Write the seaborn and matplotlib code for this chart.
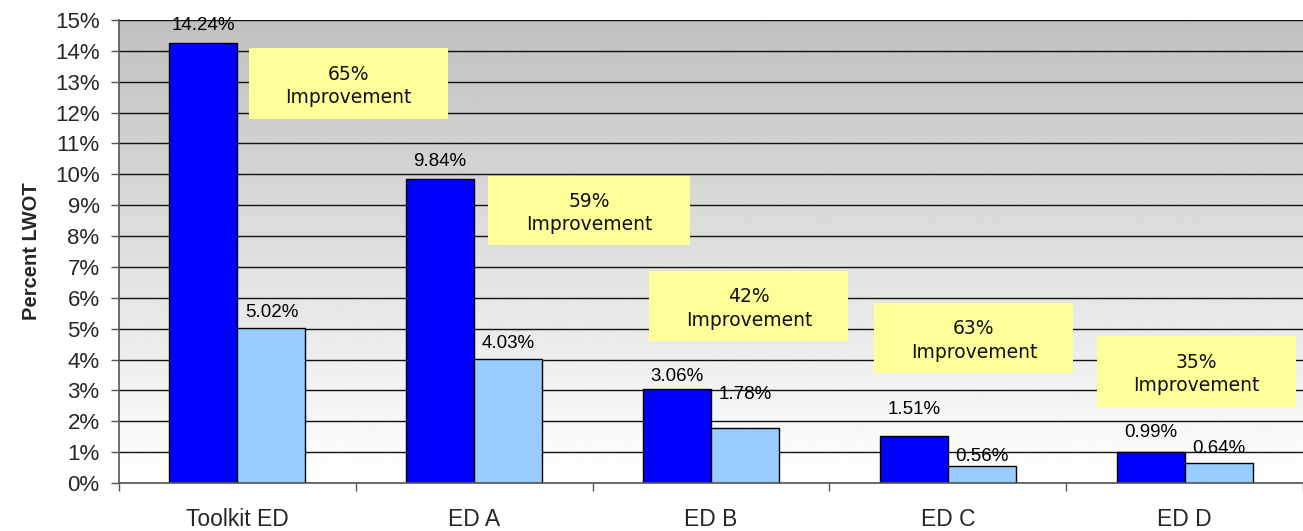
import numpy as np
import pandas as pd
import seaborn as sns
import matplotlib.pyplot as plt
from matplotlib.patches import Rectangle
from matplotlib.ticker import FuncFormatter, FixedLocator

categories = ["Toolkit ED", "ED A", "ED B", "ED C", "ED D"]
before = [14.24, 9.84, 3.06, 1.51, 0.99]
after = [5.02, 4.03, 1.78, 0.56, 0.64]
improvement = ["65%", "59%", "42%", "63%", "35%"]

# yellow callout boxes: (x0, x1, y0, y1) in category / percent units
boxes = [(0.05, 0.89, 11.8, 14.1),
         (1.06, 1.91, 7.7, 9.95),
         (1.74, 2.58, 4.6, 6.87),
         (2.69, 3.53, 3.56, 5.83),
         (3.63, 4.47, 2.46, 4.76)]
# label offsets above bars (pixels), Excel puts them unevenly
pad_before = [9, 9, 4, 18, 11]
pad_after = [7, 7, 25, 1, 6]

df = pd.DataFrame({
    "category": categories * 2,
    "period": ["Before"] * 5 + ["After"] * 5,
    "value": before + after,
})

sns.set_style("white")
plt.rcParams["font.family"] = ["Liberation Sans", "DejaVu Sans"]

fig = plt.figure(figsize=(13.03, 5.31), dpi=100)
ax = fig.add_axes([0.0913, 0.0904, 0.9087, 0.8719])

# gray-to-white gradient background
grad = np.linspace(255, 192, 256).reshape(-1, 1) / 255.0
ax.imshow(grad, cmap="gray", vmin=0, vmax=1, aspect="auto",
          extent=(-0.5, 4.5, 0, 15), origin="lower", zorder=-2)

sns.barplot(data=df, x="category", y="value", hue="period",
            palette=["#0000FF", "#99CCFF"], width=0.575,
            edgecolor="black", linewidth=1, saturation=1,
            legend=False, ax=ax, zorder=2)

for cont, pads in zip(ax.containers, [pad_before, pad_after]):
    for bar, p in zip(cont, pads):
        ax.annotate(f"{bar.get_height():.2f}%",
                    (bar.get_x() + bar.get_width() / 2, bar.get_height()),
                    xytext=(0, p), textcoords="offset pixels",
                    ha="center", va="bottom", fontsize=13.5, color="black")

for (x0, x1, y0, y1), imp in zip(boxes, improvement):
    ax.add_patch(Rectangle((x0, y0), x1 - x0, y1 - y0, facecolor="#FFFF99",
                           edgecolor="none", zorder=3))
    ax.text((x0 + x1) / 2, (y0 + y1) / 2 - 0.08, f"{imp}\nImprovement",
            ha="center", va="center", fontsize=13.5, linespacing=1.3,
            family="DejaVu Sans", zorder=4, color="#111111")

ax.set_xlim(-0.5, 4.5)
ax.set_ylim(0, 15)
ax.set_yticks(range(0, 16))
ax.yaxis.set_major_formatter(FuncFormatter(lambda v, _: f"{v:.0f}%"))
ax.yaxis.grid(True, color="#111111", linewidth=1)
ax.set_axisbelow(True)
for gl in ax.get_ygridlines():
    gl.set_zorder(-1)

ax.tick_params(axis="y", which="major", left=True, length=6, width=1,
               color="#555555", labelsize=16, pad=8)
ax.xaxis.set_minor_locator(FixedLocator(np.arange(-0.5, 5.0, 1.0)))
ax.tick_params(axis="x", which="major", bottom=False, length=0,
               labelsize=16.5, pad=18)
ax.tick_params(axis="x", which="minor", bottom=True, length=6, width=1,
               color="#555555")

for side in ["top", "right"]:
    ax.spines[side].set_visible(False)
for side in ["left", "bottom"]:
    ax.spines[side].set_color("#555555")
    ax.spines[side].set_linewidth(1.2)

ax.set_xlabel("")
ax.set_ylabel("Percent LWOT", fontsize=14.5, fontweight="bold", labelpad=10)

fig.savefig("out.png", dpi=100)
